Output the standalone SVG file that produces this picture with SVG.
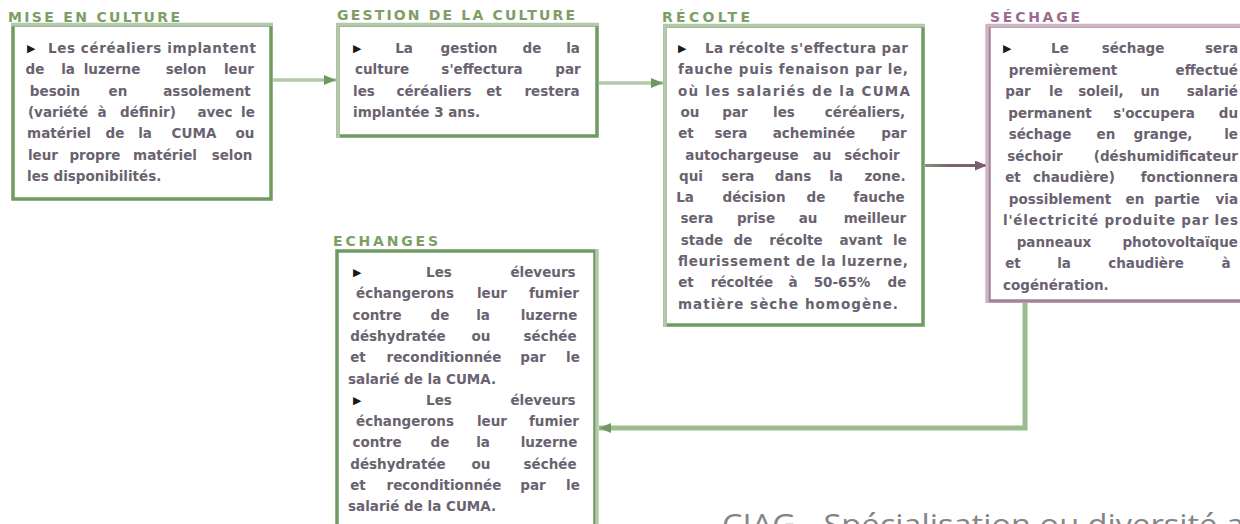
<svg xmlns="http://www.w3.org/2000/svg" width="1240" height="524" viewBox="0 0 1240 524">
<style>
.t{font-family:"DejaVu Sans",Verdana,sans-serif;font-weight:bold;font-size:13.5px;fill:#6a6270}
.m{text-anchor:middle}
.e{text-anchor:end}
.bl{font-family:"DejaVu Sans",sans-serif;font-size:11px;fill:#1b1b1b}
.ttl{font-family:"DejaVu Sans",Verdana,sans-serif;font-weight:bold;font-size:14px;fill:#7d9e64}
.ttlp{fill:#9b6c8c}
.bx{fill:#fff;stroke:#6f9b63;stroke-width:3.5}
.bxp{fill:#fff;stroke:#a58297;stroke-width:3.5}
.lg{stroke:#b4c9ab;stroke-width:3.5;fill:none}
.lp{stroke:#cdb5c5;stroke-width:3.5;fill:none}
.foot{font-family:"Open Sans",Lato,sans-serif;font-size:30px;fill:#858585}
</style>
<defs>
<marker id="ag" markerUnits="userSpaceOnUse" markerWidth="12" markerHeight="10" refX="12" refY="5" orient="auto"><path d="M0,0 L12,5 L0,10 z" fill="#6e9a62"/></marker>
<marker id="ap" markerUnits="userSpaceOnUse" markerWidth="12" markerHeight="10" refX="12" refY="5" orient="auto"><path d="M0,0 L12,5 L0,10 z" fill="#7a5f70"/></marker>
<linearGradient id="gp" gradientUnits="userSpaceOnUse" x1="925" y1="0" x2="987" y2="0"><stop offset="0" stop-color="#7a9a6c"/><stop offset="0.4" stop-color="#7a6272"/><stop offset="1" stop-color="#7a6070"/></linearGradient>
</defs>

<g id="connectors">
<path d="M273,80 L336,80" class="lg" marker-end="url(#ag)"/>
<path d="M599,83 L663,83" class="lg" marker-end="url(#ag)"/>
<path d="M925,165.5 L987,165.5" stroke="url(#gp)" stroke-width="3" fill="none" marker-end="url(#ap)"/>
<path d="M1025,303 L1025,428 L599,428" stroke="#9cbb8f" stroke-width="5" fill="none" marker-end="url(#ag)"/>
</g>

<g id="mise-en-culture">
<text class="ttl" x="8" y="21.5" textLength="172" lengthAdjust="spacing">MISE EN CULTURE</text>
<rect class="bx" x="13" y="25" width="258" height="174"/>
<path class="lg" d="M11,24.5 H273"/>
<text class="bl" x="27" y="52">▶</text>
<text class="t" x="48" y="53" textLength="208" lengthAdjust="spacing">Les céréaliers implantent</text>
<text class="t m" y="74.3"><tspan x="35">de</tspan><tspan x="68">la</tspan><tspan x="112">luzerne</tspan><tspan x="186">selon</tspan><tspan x="239">leur</tspan></text>
<text class="t m" y="95.6"><tspan x="55">besoin</tspan><tspan x="118">en</tspan><tspan x="207">assolement</tspan></text>
<text class="t m" y="116.9"><tspan x="58">(variété</tspan><tspan x="102">à</tspan><tspan x="148">définir)</tspan><tspan x="215">avec</tspan><tspan x="248">le</tspan></text>
<text class="t m" y="138.2"><tspan x="59">matériel</tspan><tspan x="115">de</tspan><tspan x="145">la</tspan><tspan x="194">CUMA</tspan><tspan x="245">ou</tspan></text>
<text class="t m" y="159.5"><tspan x="43">leur</tspan><tspan x="95">propre</tspan><tspan x="165">matériel</tspan><tspan x="232">selon</tspan></text>
<text class="t" x="27" y="180.8">les disponibilités.</text>
</g>

<g id="gestion">
<text class="ttl" x="337" y="19.5" textLength="238" lengthAdjust="spacing">GESTION DE LA CULTURE</text>
<rect class="bx" x="338" y="25" width="259" height="111"/>
<path class="lg" d="M336,24.5 H599 M338,23 V138"/>
<text class="bl" x="353" y="52">▶</text>
<text class="t m" y="53"><tspan x="404">La</tspan><tspan x="469">gestion</tspan><tspan x="532">de</tspan><tspan x="573">la</tspan></text>
<text class="t m" y="74.3"><tspan x="382">culture</tspan><tspan x="482">s'effectura</tspan><tspan x="568">par</tspan></text>
<text class="t m" y="95.6"><tspan x="364">les</tspan><tspan x="434">céréaliers</tspan><tspan x="494">et</tspan><tspan x="552">restera</tspan></text>
<text class="t" x="353" y="116.9">implantée 3 ans.</text>
</g>

<g id="recolte">
<text class="ttl" x="662" y="21.5" textLength="88" lengthAdjust="spacing">RÉCOLTE</text>
<rect class="bx" x="665" y="26" width="258" height="299"/>
<path class="lg" d="M663,25.5 H925 M665,24 V327"/>
<text class="bl" x="678" y="52">▶</text>
<text class="t" x="705" y="53" textLength="203" lengthAdjust="spacing">La récolte s'effectura par</text>
<text class="t" x="678" y="74.3" textLength="230" lengthAdjust="spacing">fauche puis fenaison par le,</text>
<text class="t" x="678" y="95.6" textLength="232" lengthAdjust="spacing">où les salariés de la CUMA</text>
<text class="t m" y="116.9"><tspan x="690">ou</tspan><tspan x="735">par</tspan><tspan x="784">les</tspan><tspan x="865">céréaliers,</tspan></text>
<text class="t m" y="138.2"><tspan x="686">et</tspan><tspan x="731">sera</tspan><tspan x="814">acheminée</tspan><tspan x="894">par</tspan></text>
<text class="t m" y="159.5"><tspan x="742">autochargeuse</tspan><tspan x="822">au</tspan><tspan x="872">séchoir</tspan></text>
<text class="t m" y="180.8"><tspan x="691">qui</tspan><tspan x="738">sera</tspan><tspan x="793">dans</tspan><tspan x="836">la</tspan><tspan x="885">zone.</tspan></text>
<text class="t m" y="202.1"><tspan x="685">La</tspan><tspan x="754">décision</tspan><tspan x="816">de</tspan><tspan x="879">fauche</tspan></text>
<text class="t m" y="223.4"><tspan x="697">sera</tspan><tspan x="756">prise</tspan><tspan x="808">au</tspan><tspan x="875">meilleur</tspan></text>
<text class="t m" y="244.7"><tspan x="702">stade</tspan><tspan x="743">de</tspan><tspan x="796">récolte</tspan><tspan x="861">avant</tspan><tspan x="900">le</tspan></text>
<text class="t" x="678" y="266" textLength="230" lengthAdjust="spacing">fleurissement de la luzerne,</text>
<text class="t m" y="287.3"><tspan x="686">et</tspan><tspan x="742">récoltée</tspan><tspan x="793">à</tspan><tspan x="842">50-65%</tspan><tspan x="897">de</tspan></text>
<text class="t" x="678" y="308.6" textLength="220" lengthAdjust="spacing">matière sèche homogène.</text>
</g>

<g id="sechage">
<text class="ttl ttlp" x="990" y="21.5" textLength="90" lengthAdjust="spacing">SÉCHAGE</text>
<rect class="bxp" x="989" y="26" width="270" height="275"/>
<path class="lp" d="M987,25.5 H1250 M987,24 V303"/>
<text class="bl" x="1003" y="52">▶</text>
<text class="t m" y="53"><tspan x="1060">Le</tspan><tspan x="1133">séchage</tspan></text>
<text class="t e" x="1238" y="53">sera</text>
<text class="t m" y="74.5"><tspan x="1063">premièrement</tspan></text>
<text class="t e" x="1238" y="74.5">effectué</text>
<text class="t m" y="96"><tspan x="1018">par</tspan><tspan x="1056">le</tspan><tspan x="1101">soleil,</tspan><tspan x="1150">un</tspan></text>
<text class="t e" x="1238" y="96">salarié</text>
<text class="t m" y="117.5"><tspan x="1050">permanent</tspan><tspan x="1154">s'occupera</tspan></text>
<text class="t e" x="1238" y="117.5">du</text>
<text class="t m" y="139"><tspan x="1040">séchage</tspan><tspan x="1106">en</tspan><tspan x="1163">grange,</tspan></text>
<text class="t e" x="1238" y="139">le</text>
<text class="t m" y="160.5"><tspan x="1035">séchoir</tspan></text>
<text class="t e" x="1238" y="160.5">(déshumidificateur</text>
<text class="t m" y="182"><tspan x="1013">et</tspan><tspan x="1074">chaudière)</tspan></text>
<text class="t e" x="1238" y="182">fonctionnera</text>
<text class="t m" y="203.5"><tspan x="1060">possiblement</tspan><tspan x="1135">en</tspan><tspan x="1177">partie</tspan></text>
<text class="t e" x="1238" y="203.5">via</text>
<text class="t" x="1003" y="225" textLength="235" lengthAdjust="spacing">l'électricité produite par les</text>
<text class="t m" y="246.5"><tspan x="1054">panneaux</tspan></text>
<text class="t e" x="1238" y="246.5">photovoltaïque</text>
<text class="t m" y="268"><tspan x="1013">et</tspan><tspan x="1064">la</tspan><tspan x="1146">chaudière</tspan><tspan x="1226">à</tspan></text>
<text class="t" x="1003" y="289.5">cogénération.</text>
</g>

<g id="echanges">
<text class="ttl" x="333" y="245.5" textLength="105" lengthAdjust="spacing">ECHANGES</text>
<rect class="bx" x="337" y="251" width="258" height="290"/>
<path class="lg" d="M597,249 V530"/>
<text class="bl" x="353" y="276">▶</text>
<text class="t m" y="277"><tspan x="439">Les</tspan><tspan x="543">éleveurs</tspan></text>
<text class="t m" y="298.3"><tspan x="405">échangerons</tspan><tspan x="492">leur</tspan><tspan x="554">fumier</tspan></text>
<text class="t m" y="319.6"><tspan x="377">contre</tspan><tspan x="440">de</tspan><tspan x="483">la</tspan><tspan x="549">luzerne</tspan></text>
<text class="t m" y="340.9"><tspan x="398">déshydratée</tspan><tspan x="481">ou</tspan><tspan x="550">séchée</tspan></text>
<text class="t m" y="362.2"><tspan x="358">et</tspan><tspan x="444">reconditionnée</tspan><tspan x="533">par</tspan><tspan x="573">le</tspan></text>
<text class="t" x="348" y="383.5">salarié de la CUMA.</text>
<text class="bl" x="353" y="403.8">▶</text>
<text class="t m" y="404.8"><tspan x="439">Les</tspan><tspan x="543">éleveurs</tspan></text>
<text class="t m" y="426.1"><tspan x="405">échangerons</tspan><tspan x="492">leur</tspan><tspan x="554">fumier</tspan></text>
<text class="t m" y="447.4"><tspan x="377">contre</tspan><tspan x="440">de</tspan><tspan x="483">la</tspan><tspan x="549">luzerne</tspan></text>
<text class="t m" y="468.7"><tspan x="398">déshydratée</tspan><tspan x="481">ou</tspan><tspan x="550">séchée</tspan></text>
<text class="t m" y="490"><tspan x="358">et</tspan><tspan x="444">reconditionnée</tspan><tspan x="533">par</tspan><tspan x="573">le</tspan></text>
<text class="t" x="348" y="511.3">salarié de la CUMA.</text>
</g>

<text class="foot" x="722" y="535" textLength="522" lengthAdjust="spacingAndGlyphs">CIAG - Spécialisation ou diversité a</text>
</svg>
